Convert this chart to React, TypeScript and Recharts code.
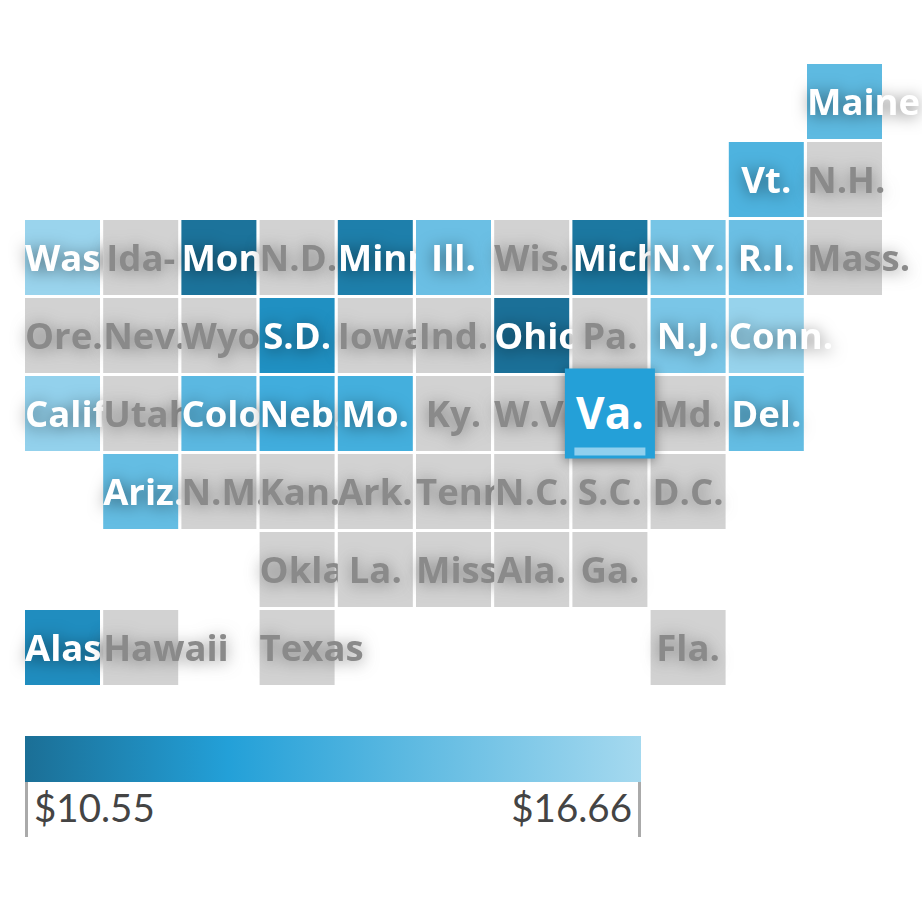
import React from "react";
import { ScatterChart, Scatter, XAxis, YAxis } from "recharts";

const labels = [
  "Maine", "Vt.", "N.H.",
  "Wash.", "Ida-", "Mont.", "N.D.", "Minn.", "Ill.", "Wis.", "Mich.", "N.Y.", "R.I.", "Mass.",
  "Ore.", "Nev.", "Wyo.", "S.D.", "Iowa", "Ind.", "Ohio", "Pa.", "N.J.", "Conn.",
  "Calif.", "Utah", "Colo.", "Neb.", "Mo.", "Ky.", "W.Va.", "Md.", "Del.",
  "Ariz.", "N.M.", "Kan.", "Ark.", "Tenn.", "N.C.", "S.C.", "D.C.",
  "Okla.", "La.", "Miss.", "Ala.", "Ga.",
  "Alaska", "Hawaii", "Texas", "Fla.",
  "Va.",
];
const cols = [
  10, 9, 10,
  0, 1, 2, 3, 4, 5, 6, 7, 8, 9, 10,
  0, 1, 2, 3, 4, 5, 6, 7, 8, 9,
  0, 1, 2, 3, 4, 5, 6, 8, 9,
  1, 2, 3, 4, 5, 6, 7, 8,
  3, 4, 5, 6, 7,
  0, 1, 3, 8,
  7,
];
const rows = [
  0, 1, 1,
  2, 2, 2, 2, 2, 2, 2, 2, 2, 2, 2,
  3, 3, 3, 3, 3, 3, 3, 3, 3, 3,
  4, 4, 4, 4, 4, 4, 4, 4, 4,
  5, 5, 5, 5, 5, 5, 5, 5,
  6, 6, 6, 6, 6,
  7, 7, 7, 7,
  4,
];
const prices: (number | null)[] = [
  14.4, 13.9, null,
  16.3, null, 10.7, null, 11.2, 14.8, null, 10.9, 15.2, 14.8, null,
  null, null, null, 11.9, null, null, 10.6, null, 15.3, 16.2,
  16.1, null, 14.3, 13.5, 13.6, null, null, null, 14.6,
  14.6, null, null, null, null, null, null, null,
  null, null, null, null, null,
  11.8, null, null, null,
  12.6,
];
const highlighted = "Va.";
const scaleMin = 10.55;
const scaleMax = 16.66;
const minLabel = "$10.55";
const maxLabel = "$16.66";
const stopOffsets = [0, 0.33, 0.62, 1];
const stopColors = ["#1b6f96", "#23a0d8", "#5cb9e1", "#a5d9ef"];
const noDataColor = "#d2d2d2";

const FONT = "'Open Sans', Lato, sans-serif";
const LEGEND_FONT = "Lato, 'Noto Sans', sans-serif";
const table = labels.map((label, i) => ({ label, col: cols[i], row: rows[i], price: prices[i] }));

function hexToRgb(h: string) {
  return [1, 3, 5].map((i) => parseInt(h.slice(i, i + 2), 16));
}
function colorFor(v: number) {
  const t = Math.max(0, Math.min(1, (v - scaleMin) / (scaleMax - scaleMin)));
  let k = 0;
  while (k < stopOffsets.length - 2 && t > stopOffsets[k + 1]) k++;
  const f = (t - stopOffsets[k]) / (stopOffsets[k + 1] - stopOffsets[k]);
  const a = hexToRgb(stopColors[k]);
  const b = hexToRgb(stopColors[k + 1]);
  const c = a.map((x, i) => Math.round(x + (b[i] - x) * f));
  return `rgb(${c[0]},${c[1]},${c[2]})`;
}

let ctx: CanvasRenderingContext2D | null = null;
function textWidth(s: string, font: string) {
  if (!ctx) ctx = document.createElement("canvas").getContext("2d");
  ctx!.font = font;
  return ctx!.measureText(s).width;
}

const CELL = 75;
const FONT_SIZE = 36.5;

function Cell(props: any) {
  const { cx, cy, payload } = props;
  const { label, price } = payload;
  const hasValue = price !== null;
  const fill = hasValue ? colorFor(price) : noDataColor;
  const textColor = hasValue ? "#ffffff" : "#8a8a8a";
  const shadow = hasValue ? "rgba(0,0,0,0.5)" : "rgba(70,70,70,0.6)";
  const isHi = label === highlighted;
  const size = isHi ? 90 : CELL;
  const fs = isHi ? 44 : FONT_SIZE;
  const w = textWidth(label, `700 ${fs}px ${FONT}`);
  const left = cx - size / 2;
  const tx = left + Math.max(0, (size - w) / 2);
  return (
    <g>
      <rect
        x={left}
        y={cy - size / 2}
        width={size}
        height={size}
        fill={fill}
        style={isHi ? { filter: "drop-shadow(0 2px 6px rgba(0,0,0,0.45))" } : undefined}
      />
      {isHi && <rect x={cx - 35.5} y={cy + 34} width={71} height={8} fill="#90d0ee" />}
      <text
        x={tx}
        y={cy + (isHi ? 15 : 13)}
        fill={textColor}
        fontFamily={FONT}
        fontWeight={700}
        fontSize={fs}
        style={{ filter: isHi ? undefined : `drop-shadow(0 2px 8px ${shadow})` }}
      >
        {label}
      </text>
    </g>
  );
}

const legendGradient = `linear-gradient(to right, ${stopColors
  .map((c, i) => `${c} ${stopOffsets[i] * 100}%`)
  .join(", ")})`;

export default function App() {
  return (
    <div style={{ position: "absolute", left: 0, top: 0, width: 922, height: 922, overflow: "hidden", background: "#fff" }}>
      <ScatterChart width={922} height={922} margin={{ top: 0, right: 0, bottom: 0, left: 0 }}>
        <XAxis type="number" dataKey="col" domain={[-62.5 / 78.2, (922 - 62.5) / 78.2]} hide />
        <YAxis type="number" dataKey="row" domain={[-101.5 / 78, (922 - 101.5) / 78]} reversed hide />
        <Scatter data={table} isAnimationActive={false} shape={<Cell />} />
      </ScatterChart>
      <div style={{ position: "absolute", left: 25, top: 736, width: 616, height: 46, background: legendGradient }} />
      <div style={{ position: "absolute", left: 25, top: 782, width: 3, height: 55, background: "#aaa" }} />
      <div style={{ position: "absolute", left: 638, top: 782, width: 3, height: 55, background: "#aaa" }} />
      <div style={{ position: "absolute", left: 34, top: 783, fontFamily: LEGEND_FONT, fontSize: 38.5, lineHeight: "48px", color: "#444" }}>{minLabel}</div>
      <div style={{ position: "absolute", right: 922 - 632, top: 783, fontFamily: LEGEND_FONT, fontSize: 38.5, lineHeight: "48px", color: "#444" }}>{maxLabel}</div>
    </div>
  );
}
